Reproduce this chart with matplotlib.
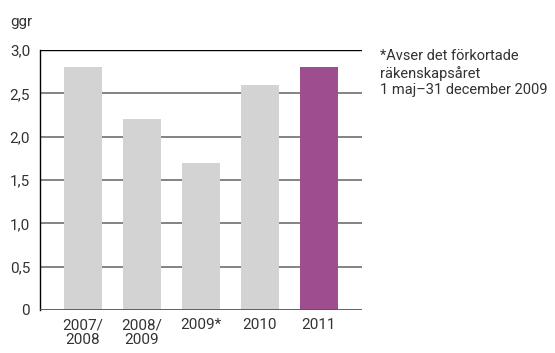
import matplotlib
matplotlib.use("Agg")
import matplotlib.pyplot as plt

categories = ["2007/\n2008", "2008/\n2009", "2009*", "2010", "2011"]
values = [2.8, 2.2, 1.7, 2.6, 2.8]
colors = ["#d3d3d3", "#d3d3d3", "#d3d3d3", "#d3d3d3", "#9e4d8e"]
yticks = [0, 0.5, 1.0, 1.5, 2.0, 2.5, 3.0]
ytick_labels = ["0", "0,5", "1,0", "1,5", "2,0", "2,5", "3,0"]

plt.rcParams['font.family'] = ['Roboto', 'DejaVu Sans']
fig = plt.figure(figsize=(5.55, 3.53), dpi=100)
ax = fig.add_axes([0.072, 0.122, 0.580, 0.736])

x = list(range(len(categories)))
for yv in yticks[1:-1]:
    ax.axhline(yv, color="#7a7a7a", lw=1.3, zorder=0)
ax.axhline(3.0, color="black", lw=1.0, zorder=0)
ax.axhline(0, color="#555555", lw=1.3, zorder=3)
ax.bar(x, values, width=0.64, color=colors, zorder=2)

ax.set_xlim(-0.73, 4.73)
ax.set_ylim(0, 3.0)
ax.set_yticks(yticks)
ax.set_yticklabels(ytick_labels)
ax.set_xticks(x)
ax.set_xticklabels(categories, linespacing=1.1)
for s in ["top", "right", "bottom"]:
    ax.spines[s].set_visible(False)
ax.spines["left"].set_color("black")
ax.spines["left"].set_linewidth(1.0)
ax.tick_params(axis="both", length=0, labelsize=11, colors="#333333", pad=6)
ax.tick_params(axis="y", pad=7)

fig.text(10/555, 1-22/353, "ggr", fontsize=11, color="#333333", va="center", ha="left")
fig.text(380/555, 1-49/353, "*Avser det förkortade\nräkenskapsåret\n1 maj–31 december 2009",
         fontsize=10.5, color="#333333", va="top", ha="left", linespacing=1.22)

fig.savefig("out.png", dpi=100)
